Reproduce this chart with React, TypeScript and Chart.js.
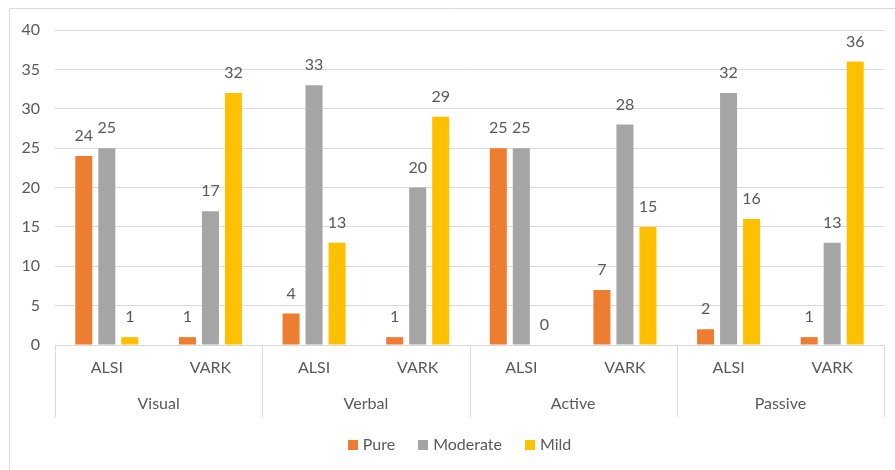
import { useEffect, useRef } from "react";
import { Chart, registerables } from "chart.js";
Chart.register(...registerables);

const groups = ["Visual", "Verbal", "Active", "Passive"];
const categories = ["ALSI", "VARK", "ALSI", "VARK", "ALSI", "VARK", "ALSI", "VARK"];
const seriesNames = ["Pure", "Moderate", "Mild"];
const pure = [24, 1, 4, 1, 25, 7, 2, 1];
const moderate = [25, 17, 33, 20, 25, 28, 32, 13];
const mild = [1, 32, 13, 29, 0, 15, 16, 36];
const yMin = 0;
const yMax = 40;
const yStep = 5;

const COLORS = ["#ED7D31", "#A5A5A5", "#FFC000"];
const TEXT = "#595959";
const LINE = "#D9D9D9";
const FONT = "Lato, 'Open Sans', sans-serif";
const FS = 16;

const decor = {
  id: "decor",
  afterDraw(chart: any) {
    const ctx = chart.ctx;
    const area = chart.chartArea;
    const xs = chart.scales.x;
    ctx.save();
    // outer border
    ctx.strokeStyle = LINE;
    ctx.lineWidth = 1;
    ctx.beginPath();
    ctx.moveTo(9.5, 470);
    ctx.lineTo(9.5, 8.5);
    ctx.lineTo(895, 8.5);
    ctx.stroke();
    // group separators
    const n = groups.length;
    const w = (area.right - area.left) / n;
    ctx.beginPath();
    for (let g = 0; g <= n; g++) {
      const x = Math.round(area.left + g * w) + 0.5;
      ctx.moveTo(x, area.bottom);
      ctx.lineTo(x, area.bottom + 72);
    }
    ctx.stroke();
    // tick labels
    ctx.fillStyle = TEXT;
    ctx.font = `${FS}px ${FONT}`;
    ctx.textAlign = "center";
    ctx.textBaseline = "middle";
    categories.forEach((c, i) => {
      ctx.fillText(c, xs.getPixelForValue(i), area.bottom + 23);
    });
    groups.forEach((g, i) => {
      ctx.fillText(g, area.left + (i + 0.5) * w, area.bottom + 59);
    });
    // legend
    const items = seriesNames.map((s, i) => ({ s, c: COLORS[i], tw: ctx.measureText(s).width }));
    const box = 10;
    const gapBoxText = 5;
    const gapItems = 23;
    let total = 0;
    items.forEach((it, i) => {
      total += box + gapBoxText + it.tw + (i < items.length - 1 ? gapItems : 0);
    });
    let lx = (area.left + area.right) / 2 - total / 2 - 10;
    const ly = 445;
    ctx.textAlign = "left";
    items.forEach((it) => {
      ctx.fillStyle = it.c;
      ctx.fillRect(Math.round(lx), ly - box / 2, box, box);
      ctx.fillStyle = TEXT;
      ctx.fillText(it.s, lx + box + gapBoxText, ly);
      lx += box + gapBoxText + it.tw + gapItems;
    });
    ctx.restore();
  },
  afterDatasetsDraw(chart: any) {
    const ctx = chart.ctx;
    ctx.save();
    ctx.fillStyle = TEXT;
    ctx.font = `${FS}px ${FONT}`;
    ctx.textAlign = "center";
    ctx.textBaseline = "middle";
    chart.data.datasets.forEach((ds: any, di: number) => {
      const meta = chart.getDatasetMeta(di);
      meta.data.forEach((el: any, i: number) => {
        ctx.fillText(String(ds.data[i]), el.x, el.y - 20);
      });
    });
    ctx.restore();
  },
};

export default function App() {
  const ref = useRef<HTMLCanvasElement>(null);
  useEffect(() => {
    if (!ref.current) return;
    const chart = new Chart(ref.current, {
      type: "bar",
      data: {
        labels: categories,
        datasets: [
          { label: seriesNames[0], data: pure, backgroundColor: COLORS[0] },
          { label: seriesNames[1], data: moderate, backgroundColor: COLORS[1] },
          { label: seriesNames[2], data: mild, backgroundColor: COLORS[2] },
        ],
      },
      options: {
        responsive: false,
        animation: false,
        events: [],
        layout: { padding: { top: 30, right: 11, bottom: 0, left: 0 } },
        datasets: { bar: { categoryPercentage: 0.666, barPercentage: 0.74 } },
        plugins: { legend: { display: false }, tooltip: { enabled: false } },
        scales: {
          x: {
            grid: { display: false },
            border: { display: false },
            ticks: { display: false },
            afterFit: (s: any) => {
              s.height = 125;
            },
          },
          y: {
            min: yMin,
            max: yMax,
            ticks: {
              stepSize: yStep,
              color: TEXT,
              font: { family: FONT, size: FS },
              padding: 15,
            },
            grid: { color: LINE, drawTicks: false, tickLength: 0 },
            border: { display: false },
            afterFit: (s: any) => {
              s.width = 55;
            },
          },
        },
      },
      plugins: [decor],
    });
    return () => chart.destroy();
  }, []);
  return (
    <div style={{ position: "fixed", left: 0, top: 0, width: 895, height: 470, background: "#fff" }}>
      <canvas ref={ref} width={895} height={470} style={{ width: 895, height: 470, display: "block" }} />
    </div>
  );
}
